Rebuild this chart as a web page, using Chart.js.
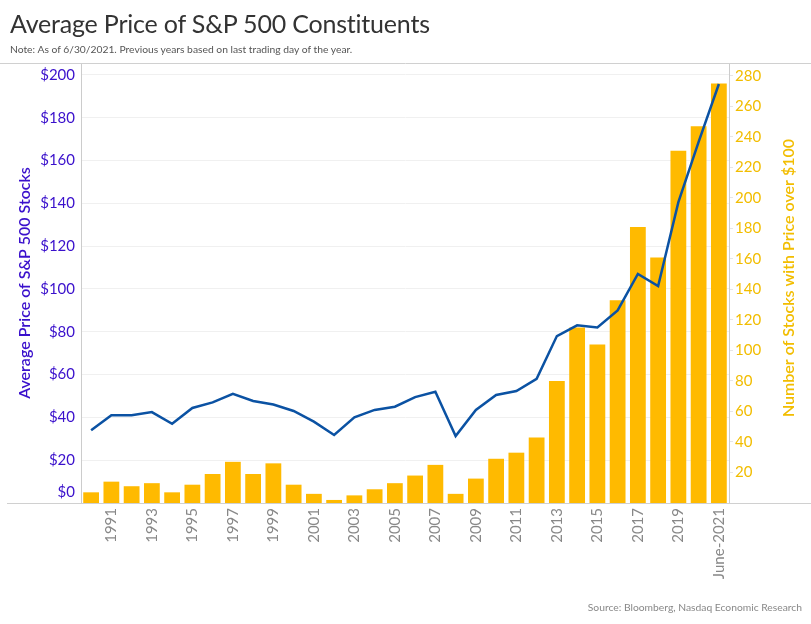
<!DOCTYPE html>
<html><head><meta charset="utf-8">
<script src="https://cdn.jsdelivr.net/npm/chart.js@4.4.0/dist/chart.umd.min.js"></script>
<style>
html,body{margin:0;padding:0;background:#fff;width:811px;height:624px;overflow:hidden}
#wrap{position:relative;width:811px;height:624px;font-family:Lato,"Open Sans",sans-serif}
canvas{position:absolute;left:0;top:0}
#title{position:absolute;left:10px;top:8px;font-size:25px;color:#333;white-space:nowrap;letter-spacing:-0.2px}
#note{position:absolute;left:10px;top:43px;font-size:10.3px;color:#555;white-space:nowrap}
#source{position:absolute;right:9px;top:601px;font-size:10.3px;color:#888;white-space:nowrap}
</style></head><body>
<div id="wrap">
<canvas id="c" width="811" height="624"></canvas>
<div id="title">Average Price of S&amp;P 500 Constituents</div>
<div id="note">Note: As of 6/30/2021. Previous years based on last trading day of the year.</div>
<div id="source">Source: Bloomberg, Nasdaq Economic Research</div>
</div>
<script>
const categories = ["1990","1991","1992","1993","1994","1995","1996","1997","1998","1999",
  "2000","2001","2002","2003","2004","2005","2006","2007","2008","2009",
  "2010","2011","2012","2013","2014","2015","2016","2017","2018","2019",
  "2020","June-2021"];
const avgPrice = [34,41,41,42.5,37,44.4,47,51,47.7,46,
  43,38,31.8,40,43.5,45,49.5,52,31.3,43.5,
  50.5,52.3,58,78,83,82,90,107,101.4,140.6,
  168.7,195.8];
const stocksOver100 = [7,14,11,13,7,12,19,27,19,26,
  12,6,2,5,9,13,18,25,6,16,
  29,33,43,80,115,104,133,181,161,231,
  247,275];
const priceTicks = [0,20,40,60,80,100,120,140,160,180,200];
const countTicks = [20,40,60,80,100,120,140,160,180,200,220,240,260,280];
const leftTitle = "Average Price of S&P 500 Stocks";
const rightTitle = "Number of Stocks with Price over $100";

const FONT = "Lato";
const PRICE_COLOR = '#3a10cc';
const COUNT_COLOR = '#f2bd00';
const fmtPrice = v => '$' + v;

const decor = {
  id: 'decor',
  afterDraw(chart) {
    const {ctx, chartArea, width} = chart;
    ctx.save();
    ctx.strokeStyle = '#d0d0d0';
    ctx.lineWidth = 1;
    ctx.beginPath();
    ctx.moveTo(0, Math.round(chartArea.top) + 0.5);
    ctx.lineTo(width, Math.round(chartArea.top) + 0.5);
    ctx.moveTo(7, Math.round(chartArea.bottom) + 0.5);
    ctx.lineTo(width, Math.round(chartArea.bottom) + 0.5);
    ctx.stroke();
    // zero label of the price axis sits just above the baseline
    const yScale = chart.scales.yPrice;
    ctx.font = '15px ' + FONT;
    ctx.fillStyle = PRICE_COLOR;
    ctx.textAlign = 'right';
    ctx.textBaseline = 'middle';
    ctx.fillText(fmtPrice(priceTicks[0]), yScale.right - 6, yScale.getPixelForValue(priceTicks[0]) - 11);
    const cy = (chartArea.top + chartArea.bottom) / 2;
    ctx.font = '600 16px ' + FONT;
    ctx.textAlign = 'center';
    ctx.translate(25, cy);
    ctx.rotate(-Math.PI / 2);
    ctx.fillText(leftTitle, 0, 0);
    ctx.restore();
    ctx.save();
    ctx.font = '600 16px ' + FONT;
    ctx.textAlign = 'center';
    ctx.textBaseline = 'middle';
    ctx.fillStyle = COUNT_COLOR;
    ctx.translate(789, cy - 5);
    ctx.rotate(-Math.PI / 2);
    ctx.fillText(rightTitle, 0, 0);
    ctx.restore();
  }
};

new Chart(document.getElementById('c'), {
  data: {
    labels: categories,
    datasets: [
      {type: 'line', data: avgPrice, yAxisID: 'yPrice', borderColor: '#0b52a3', borderWidth: 2.5,
       pointRadius: 0, tension: 0, order: 0},
      {type: 'bar', data: stocksOver100, yAxisID: 'yCount', backgroundColor: '#ffba00',
       barPercentage: 0.78, categoryPercentage: 1, order: 1}
    ]
  },
  options: {
    responsive: false,
    animation: false,
    layout: {padding: {top: 63, left: 0, right: 0, bottom: 0}},
    plugins: {legend: {display: false}, tooltip: {enabled: false}, title: {display: false}},
    scales: {
      x: {
        grid: {display: false, drawTicks: false},
        border: {display: false},
        ticks: {
          autoSkip: false, maxRotation: 90, minRotation: 90, padding: 5,
          color: '#888', font: {family: FONT, size: 15},
          callback: (v, i) => (i % 2 === 1 ? categories[i] : '')
        },
        afterFit: s => { s.height = 121; }
      },
      yPrice: {
        position: 'left', min: 0, max: 205.6,
        afterBuildTicks: s => { s.ticks = priceTicks.map(v => ({value: v})); },
        afterFit: s => { s.width = 81; },
        grid: {color: '#f0f0f0', drawTicks: false},
        border: {color: '#cccccc'},
        ticks: {padding: 6, color: PRICE_COLOR, font: {family: FONT, size: 15},
          callback: v => (v === priceTicks[0] ? '' : fmtPrice(v))}
      },
      yCount: {
        position: 'right', min: 0, max: 288.5,
        afterBuildTicks: s => { s.ticks = countTicks.map(v => ({value: v})); },
        afterFit: s => { s.width = 82; },
        grid: {drawOnChartArea: false, color: '#e6e6e6', tickLength: 4},
        border: {color: '#cccccc'},
        ticks: {padding: 2, color: COUNT_COLOR, font: {family: FONT, size: 15}}
      }
    }
  },
  plugins: [decor]
});
</script>
</body></html>
